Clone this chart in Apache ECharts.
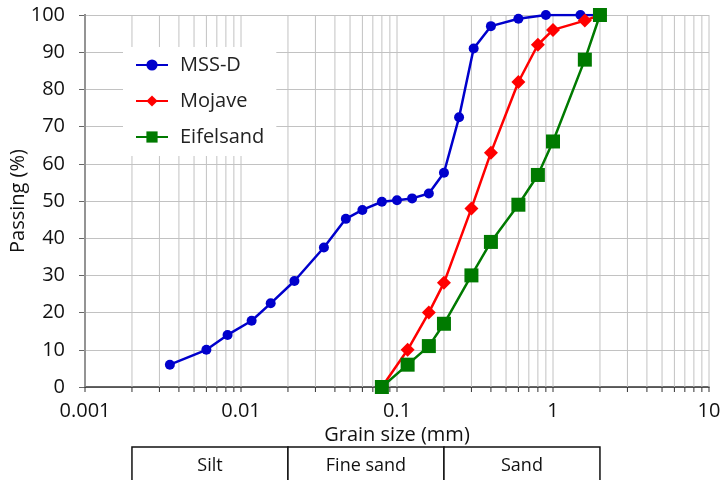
<!DOCTYPE html>
<html>
<head>
<meta charset="utf-8">
<script src="https://cdn.jsdelivr.net/npm/echarts@6/dist/echarts.min.js"></script>
<style>
  html, body { margin: 0; padding: 0; background: #fff; }
  #chart { width: 724px; height: 480px; }
</style>
</head>
<body>
<div id="chart"></div>
<script>
// grain size (mm) / passing (%)
const mssSize = [0.0035, 0.006, 0.0082, 0.0117, 0.0155, 0.022, 0.034, 0.047, 0.06, 0.08, 0.1, 0.125, 0.16, 0.2, 0.25, 0.31, 0.4, 0.6, 0.9, 1.5, 2];
const mssPass = [6, 10, 14, 17.8, 22.5, 28.5, 37.5, 45.2, 47.6, 49.8, 50.2, 50.7, 52, 57.6, 72.5, 91, 97, 99, 100, 100, 100];

const mojaveSize = [0.08, 0.117, 0.16, 0.2, 0.3, 0.4, 0.6, 0.8, 1.0, 1.6, 2];
const mojavePass = [0, 10, 20, 28, 48, 63, 82, 92, 96, 98.5, 100];

const eifelSize = [0.08, 0.117, 0.16, 0.2, 0.3, 0.4, 0.6, 0.8, 1.0, 1.6, 2];
const eifelPass = [0, 6, 11, 17, 30, 39, 49, 57, 66, 88, 100];

const xTickLabels = [0.001, 0.01, 0.1, 1, 10];
const zoneEdges = [0.002, 0.02, 0.2, 2];
const zoneNames = ["Silt", "Fine sand", "Sand"];

// vertical grid at 1..9 in every decade
const vGrid = [];
for (let i = 0; i < xTickLabels.length - 1; i++) {
  for (let k = 1; k <= 9; k++) vGrid.push([+(xTickLabels[i] * k).toPrecision(3), 0]);
}
vGrid.push([10, 0]);

const zip = (a, b) => a.map((v, i) => [v, b[i]]);

const font = "'Open Sans', 'Noto Sans', sans-serif";
const chart = echarts.init(document.getElementById("chart"));

chart.setOption({
  animation: false,
  grid: { left: 85, right: 15, top: 15, bottom: 93, outerBoundsMode: "none" },
  legend: {
    data: ["MSS-D", "Mojave", "Eifelsand"],
    orient: "vertical",
    left: 123,
    top: 47,
    padding: [8, 12, 9, 12],
    itemGap: 16,
    itemWidth: 32,
    itemHeight: 14,
    backgroundColor: "#fff",
    textStyle: { fontFamily: font, fontSize: 20, color: "#222", padding: [0, 0, 0, 7] },
  },
  xAxis: {
    type: "log",
    logBase: 10,
    min: 0.001,
    max: 10,
    name: "Grain size (mm)",
    nameLocation: "middle",
    nameGap: 38,
    nameMoveOverlap: false,
    nameTextStyle: { fontFamily: font, fontSize: 20, color: "#111" },
    axisLine: { lineStyle: { color: "#333", width: 1.5 } },
    axisTick: { show: false },
    splitLine: { show: false },
    axisLabel: {
      margin: 14,
      fontFamily: font,
      fontSize: 20,
      color: "#111",
      formatter: (v) => (xTickLabels.indexOf(v) >= 0 ? String(v) : ""),
    },
  },
  yAxis: {
    type: "value",
    min: 0,
    max: 100,
    interval: 10,
    name: "Passing (%)",
    nameLocation: "middle",
    nameGap: 57,
    nameMoveOverlap: false,
    nameTextStyle: { fontFamily: font, fontSize: 20, color: "#111" },
    axisLine: { show: true, lineStyle: { color: "#666", width: 2 } },
    axisTick: { show: true, length: 6, lineStyle: { color: "#666" } },
    splitLine: { lineStyle: { color: "#c2c2c2", width: 1 } },
    axisLabel: { margin: 20, fontFamily: font, fontSize: 20, color: "#111" },
  },
  series: [
    {
      type: "custom",
      name: "grid",
      silent: true,
      clip: false,
      z: 1,
      data: vGrid,
      renderItem: (params, api) => {
        const top = api.coord([api.value(0), 100]);
        const bot = api.coord([api.value(0), 0]);
        return {
          type: "group",
          children: [
            {
              type: "line",
              shape: { x1: top[0], y1: top[1], x2: bot[0], y2: bot[1] },
              style: { stroke: "#c2c2c2", lineWidth: 1 },
            },
            {
              type: "line",
              shape: { x1: bot[0], y1: bot[1], x2: bot[0], y2: bot[1] + 5 },
              style: { stroke: "#333", lineWidth: 1 },
            },
          ],
        };
      },
    },
    {
      name: "MSS-D",
      type: "line",
      data: zip(mssSize, mssPass),
      symbol: "circle",
      symbolSize: 10,
      lineStyle: { color: "#0000cc", width: 2.5 },
      itemStyle: { color: "#0000cc" },
      z: 3,
    },
    {
      name: "Mojave",
      type: "line",
      data: zip(mojaveSize, mojavePass),
      symbol: "diamond",
      symbolSize: 14,
      lineStyle: { color: "#ff0000", width: 2.5 },
      itemStyle: { color: "#ff0000" },
      z: 4,
    },
    {
      name: "Eifelsand",
      type: "line",
      data: zip(eifelSize, eifelPass),
      symbol: "rect",
      symbolSize: 14,
      lineStyle: { color: "#007a00", width: 2.5 },
      itemStyle: { color: "#007a00" },
      z: 5,
    },
  ],
});

// soil classes table under the axis
const edgePx = zoneEdges.map((v) => chart.convertToPixel({ xAxisIndex: 0 }, v));
const tableTop = 447;
const graphics = [];
for (let i = 0; i < zoneNames.length; i++) {
  graphics.push({
    type: "rect",
    shape: { x: edgePx[i], y: tableTop, width: edgePx[i + 1] - edgePx[i], height: 40 },
    style: { fill: "#fff", stroke: "#111", lineWidth: 1.5 },
  });
  graphics.push({
    type: "text",
    x: (edgePx[i] + edgePx[i + 1]) / 2,
    y: tableTop + 19,
    style: {
      text: zoneNames[i],
      fontFamily: font,
      fontSize: 18,
      fill: "#111",
      align: "center",
      verticalAlign: "middle",
    },
  });
}
chart.setOption({ graphic: graphics });
</script>
</body>
</html>
